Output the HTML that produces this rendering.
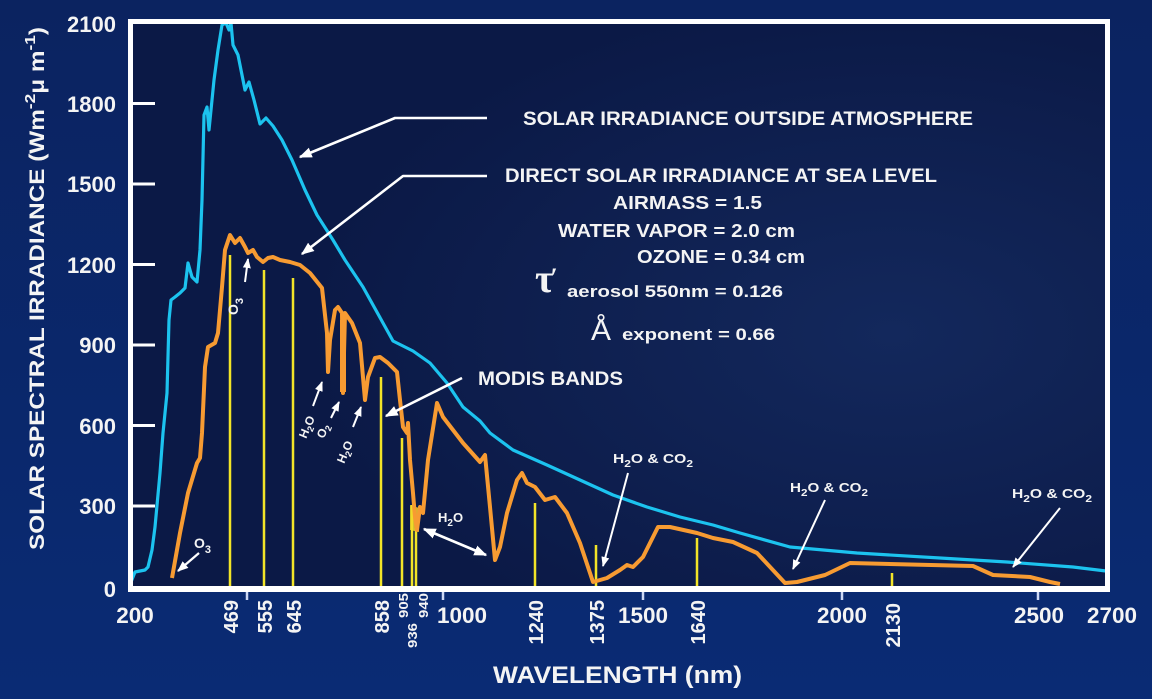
<!DOCTYPE html>
<html>
<head>
<meta charset="utf-8">
<style>
html,body{margin:0;padding:0;background:#0b2565;}
svg{display:block;}
text{font-family:"Liberation Sans",Arial,sans-serif;font-weight:bold;fill:#f4f4f4;}
</style>
</head>
<body>
<svg width="1152" height="699" viewBox="0 0 1152 699" xmlns="http://www.w3.org/2000/svg">
<defs>
  <linearGradient id="outer" x1="0" y1="0" x2="0" y2="1">
    <stop offset="0" stop-color="#0b2360"/>
    <stop offset="1" stop-color="#0a2b74"/>
  </linearGradient>
  <radialGradient id="inner" cx="0.78" cy="0.55" r="0.6">
    <stop offset="0" stop-color="#13285c"/>
    <stop offset="1" stop-color="#0b1946"/>
  </radialGradient>
  <marker id="ah" viewBox="0 0 10 10" refX="9" refY="5" markerWidth="5" markerHeight="5" orient="auto" markerUnits="strokeWidth">
    <path d="M0,1 L10,5 L0,9 z" fill="#ffffff"/>
  </marker>
  <marker id="ahs" viewBox="0 0 10 10" refX="1" refY="5" markerWidth="5" markerHeight="5" orient="auto" markerUnits="strokeWidth">
    <path d="M10,1 L0,5 L10,9 z" fill="#ffffff"/>
  </marker>
</defs>

<rect x="0" y="0" width="1152" height="699" fill="url(#outer)"/>
<rect x="130" y="21" width="977" height="568" fill="url(#inner)"/>

<!-- y ticks -->
<g stroke="#ffffff" stroke-width="3">
  <line x1="132" y1="103.5" x2="155" y2="103.5"/>
  <line x1="132" y1="184" x2="155" y2="184"/>
  <line x1="132" y1="264.5" x2="155" y2="264.5"/>
  <line x1="132" y1="345" x2="155" y2="345"/>
  <line x1="132" y1="425.5" x2="155" y2="425.5"/>
  <line x1="132" y1="506" x2="155" y2="506"/>
</g>

<!-- MODIS bands -->
<g stroke="#f2e428" stroke-width="2.5">
  <line x1="230" y1="586" x2="230" y2="255"/>
  <line x1="264" y1="586" x2="264" y2="270"/>
  <line x1="293" y1="586" x2="293" y2="278"/>
  <line x1="381" y1="586" x2="381" y2="377"/>
  <line x1="402" y1="586" x2="402" y2="438"/>
  <line x1="412" y1="586" x2="412" y2="505"/>
  <line x1="416" y1="586" x2="416" y2="528"/>
  <line x1="535" y1="586" x2="535" y2="503"/>
  <line x1="596" y1="586" x2="596" y2="545"/>
  <line x1="697" y1="586" x2="697" y2="538"/>
  <line x1="892" y1="586" x2="892" y2="573"/>
</g>
<polygon points="410,505 419,508 419,532 410,530" fill="#f2d828" opacity="0.85"/>

<!-- blue curve -->
<polyline fill="none" stroke="#1cc3ef" stroke-width="3.2" stroke-linejoin="round"
 points="131,582 135,572 145,570 148,567 152,550 155,527 160,473 163,433 167,393 169,320 171,300 175,297 180,293 185,288 188,263 192,277 197,282 200,250 202,200 204,115 207,107 209,130 211,110 214,80 218,50 222,25 226,23 229,30 231,23 233,45 238,55 245,90 249,82 254,100 260,124 266,118 273,126 282,140 292,160 305,190 317,215 333,240 345,260 363,287 383,323 393,341 413,351 430,363 447,383 463,407 480,421 490,433 513,450 547,465 580,480 613,495 647,507 680,517 713,525 740,533 790,547 857,553 940,558 1007,562 1073,567 1106,571"/>

<!-- orange curve -->
<polyline fill="none" stroke="#f79b32" stroke-width="4" stroke-linejoin="round"
 points="172,578 180,533 188,493 197,463 200,458 202,433 205,367 208,347 215,343 218,333 222,287 225,250 230,235 235,243 240,238 245,247 248,253 253,250 257,257 263,262 268,258 273,257 280,260 290,262 300,265 310,273 322,288 327,333 328,372 330,340 335,310 338,307 342,313 343,393 345,313 352,323 360,343 365,400 368,377 375,358 380,357 388,363 397,372 400,400 403,427 407,433 408,423 410,460 413,493 415,517 417,530 420,507 423,513 428,460 437,403 443,417 453,430 463,443 480,462 485,455 490,507 495,560 500,547 507,513 517,480 522,473 527,483 535,487 545,500 555,497 567,513 580,543 593,582 607,578 620,570 627,565 633,567 643,557 658,527 670,527 697,533 713,538 733,542 757,553 785,583 797,582 825,575 850,563 973,566 993,575 1030,577 1050,582 1060,584"/>
<g stroke="#f79b32" stroke-width="6">
  <line x1="343" y1="320" x2="343" y2="392"/>
</g>

<!-- frame -->
<g fill="#ffffff">
  <rect x="128" y="19" width="982" height="5"/>
  <rect x="128" y="19" width="5" height="573"/>
  <rect x="1105" y="19" width="5" height="573"/>
  <rect x="128" y="586" width="982" height="6"/>
</g>
<!-- x small ticks -->
<g stroke="#cdd8f5" stroke-width="2.5">
  <line x1="247" y1="592" x2="247" y2="600"/>
  <line x1="443" y1="592" x2="443" y2="600"/>
  <line x1="643" y1="592" x2="643" y2="600"/>
  <line x1="842" y1="592" x2="842" y2="600"/>
  <line x1="1038" y1="592" x2="1038" y2="600"/>
</g>

<!-- y tick labels -->
<g font-size="22" text-anchor="end">
  <text x="116" y="32">2100</text>
  <text x="116" y="112">1800</text>
  <text x="116" y="192">1500</text>
  <text x="116" y="273">1200</text>
  <text x="116" y="353">900</text>
  <text x="116" y="434">600</text>
  <text x="116" y="514">300</text>
  <text x="116" y="597">0</text>
</g>

<!-- y axis title -->
<text transform="translate(44,550) rotate(-90)" font-size="21" textLength="523" lengthAdjust="spacingAndGlyphs">SOLAR SPECTRAL IRRADIANCE (Wm<tspan dy="-9" font-size="15">-2</tspan><tspan dy="9">μ m</tspan><tspan dy="-9" font-size="15">-1</tspan><tspan dy="9">)</tspan></text>

<!-- x tick labels horizontal -->
<g font-size="22.5" text-anchor="middle">
  <text x="135" y="623">200</text>
  <text x="462" y="623">1000</text>
  <text x="643" y="623">1500</text>
  <text x="842" y="623">2000</text>
  <text x="1039" y="623">2500</text>
  <text x="1112" y="623">2700</text>
</g>
<!-- rotated band labels -->
<g font-size="20" text-anchor="end">
  <text transform="translate(238,600) rotate(-90)">469</text>
  <text transform="translate(272,600) rotate(-90)">555</text>
  <text transform="translate(301,600) rotate(-90)">645</text>
  <text transform="translate(389,600) rotate(-90)">858</text>
  <text transform="translate(543,600) rotate(-90)">1240</text>
  <text transform="translate(604,600) rotate(-90)">1375</text>
  <text transform="translate(705,600) rotate(-90)">1640</text>
  <text transform="translate(900,603) rotate(-90)">2130</text>
</g>
<g font-size="13" text-anchor="end">
  <text transform="translate(408,593) rotate(-90)" textLength="25" lengthAdjust="spacingAndGlyphs">905</text>
  <text transform="translate(417,623) rotate(-90)" textLength="25" lengthAdjust="spacingAndGlyphs">936</text>
  <text transform="translate(428,593) rotate(-90)" textLength="25" lengthAdjust="spacingAndGlyphs">940</text>
</g>

<!-- x axis title -->
<text x="493" y="683" font-size="24" textLength="249" lengthAdjust="spacingAndGlyphs">WAVELENGTH (nm)</text>

<!-- annotations text -->
<text x="523" y="125" font-size="19" textLength="450" lengthAdjust="spacingAndGlyphs">SOLAR IRRADIANCE OUTSIDE ATMOSPHERE</text>
<text x="505" y="182" font-size="19" textLength="432" lengthAdjust="spacingAndGlyphs">DIRECT SOLAR IRRADIANCE AT SEA LEVEL</text>
<text x="613" y="209" font-size="18" textLength="149" lengthAdjust="spacingAndGlyphs">AIRMASS = 1.5</text>
<text x="558" y="237" font-size="18" textLength="237" lengthAdjust="spacingAndGlyphs">WATER VAPOR = 2.0 cm</text>
<text x="637" y="263" font-size="18" textLength="168" lengthAdjust="spacingAndGlyphs">OZONE = 0.34 cm</text>
<text x="535" y="292" font-size="40" style="font-family:'Liberation Serif',serif;font-weight:bold;">τ<tspan font-size="26" dx="-3" dy="-6">′</tspan></text>
<text x="567" y="297" font-size="17" textLength="216" lengthAdjust="spacingAndGlyphs">aerosol 550nm = 0.126</text>
<text x="591" y="340" font-size="30" style="font-weight:normal">Å</text>
<text x="622" y="340" font-size="17" textLength="153" lengthAdjust="spacingAndGlyphs">exponent = 0.66</text>
<text x="478" y="385" font-size="19" textLength="145" lengthAdjust="spacingAndGlyphs">MODIS BANDS</text>

<text x="438" y="522" font-size="13">H<tspan dy="4" font-size="10">2</tspan><tspan dy="-4">O</tspan></text>
<text x="613" y="463" font-size="13" textLength="80" lengthAdjust="spacingAndGlyphs">H<tspan dy="4" font-size="10">2</tspan><tspan dy="-4">O &amp; CO</tspan><tspan dy="4" font-size="10">2</tspan></text>
<text x="790" y="492" font-size="13" textLength="78" lengthAdjust="spacingAndGlyphs">H<tspan dy="4" font-size="10">2</tspan><tspan dy="-4">O &amp; CO</tspan><tspan dy="4" font-size="10">2</tspan></text>
<text x="1012" y="498" font-size="13" textLength="80" lengthAdjust="spacingAndGlyphs">H<tspan dy="4" font-size="10">2</tspan><tspan dy="-4">O &amp; CO</tspan><tspan dy="4" font-size="10">2</tspan></text>
<text x="194" y="548" font-size="14">O<tspan dy="5" font-size="11">3</tspan></text>
<text transform="translate(238,315) rotate(-90)" font-size="14">O<tspan dy="5" font-size="11">3</tspan></text>
<text transform="translate(307,427) rotate(-67)" font-size="12" text-anchor="middle" dy="4">H<tspan dy="3" font-size="9">2</tspan><tspan dy="-3">O</tspan></text>
<text transform="translate(323,431) rotate(-67)" font-size="12" text-anchor="middle" dy="4">O<tspan dy="3" font-size="9">2</tspan></text>
<text transform="translate(345,452) rotate(-67)" font-size="12" text-anchor="middle" dy="4">H<tspan dy="3" font-size="9">2</tspan><tspan dy="-3">O</tspan></text>

<!-- arrows -->
<g fill="none" stroke="#ffffff" stroke-width="2.6" stroke-linejoin="round">
  <polyline points="487,118 395,118 300,157" marker-end="url(#ah)"/>
  <polyline points="487,176 403,176 302,254" marker-end="url(#ah)"/>
  <line x1="462" y1="378" x2="386" y2="416" marker-end="url(#ah)"/>
  <line x1="424" y1="529" x2="486" y2="555" marker-end="url(#ah)" marker-start="url(#ahs)"/>
  <line x1="628" y1="473" x2="603" y2="566" marker-end="url(#ah)" stroke-width="2"/>
  <line x1="825" y1="500" x2="793" y2="569" marker-end="url(#ah)" stroke-width="2"/>
  <line x1="1060" y1="508" x2="1013" y2="567" marker-end="url(#ah)" stroke-width="2"/>
  <line x1="199" y1="553" x2="178" y2="571" marker-end="url(#ah)" stroke-width="2.2"/>
  <line x1="245" y1="282" x2="248" y2="259" marker-end="url(#ah)" stroke-width="2"/>
  <line x1="313" y1="406" x2="322" y2="382" marker-end="url(#ah)" stroke-width="2"/>
  <line x1="331" y1="418" x2="339" y2="402" marker-end="url(#ah)" stroke-width="2"/>
  <line x1="353" y1="427" x2="361" y2="407" marker-end="url(#ah)" stroke-width="2"/>
</g>
</svg>
</body>
</html>
